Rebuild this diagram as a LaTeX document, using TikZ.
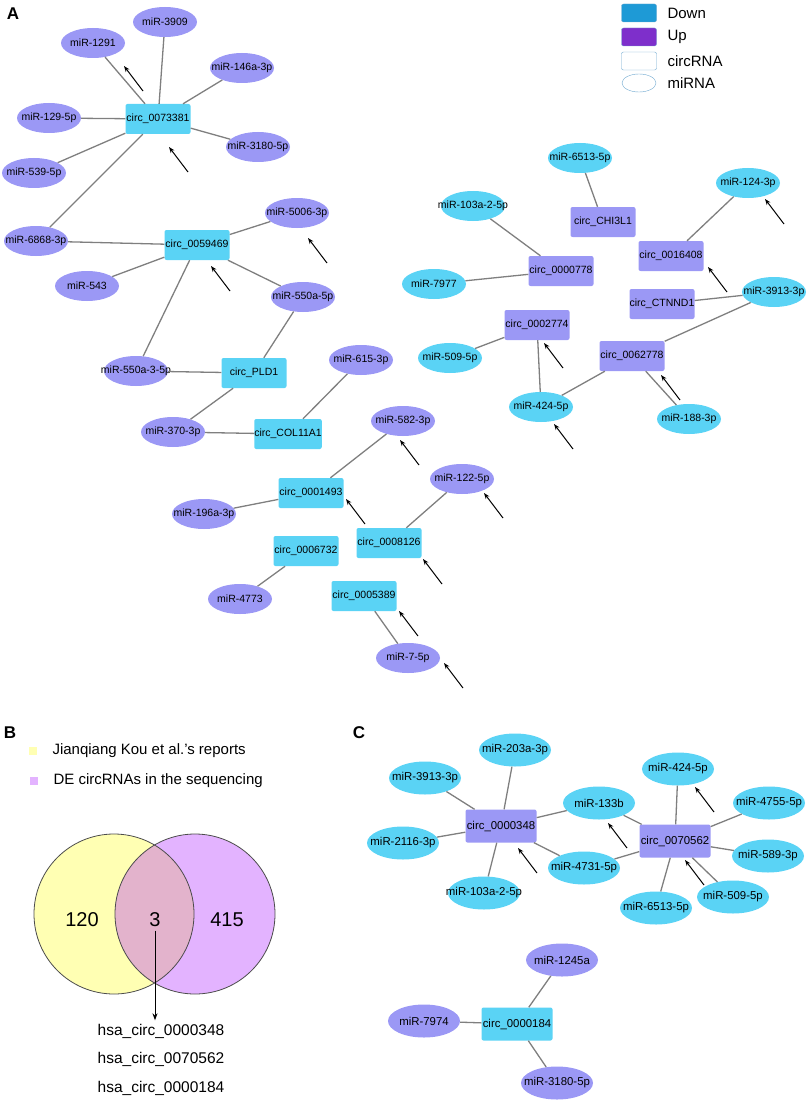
\documentclass[tikz,border=0pt]{standalone}
\usepackage{fontspec}
\setmainfont{Liberation Sans}
\usepackage{tikz}
\usetikzlibrary{positioning,arrows.meta,shapes.geometric}
\usepackage{xcolor}
\definecolor{cyanN}{HTML}{5AD3F5}
\definecolor{lavN}{HTML}{9B98F5}
\definecolor{downC}{HTML}{1E9AD6}
\definecolor{upC}{HTML}{7E2FCB}
\definecolor{legC}{HTML}{6FA8CF}
\definecolor{linkC}{HTML}{7F7F7F}
\definecolor{vennY}{HTML}{FFFFB3}
\definecolor{vennP}{HTML}{E3B3FF}
\definecolor{vennO}{HTML}{E3B3CC}

\begin{document}
\begin{tikzpicture}[x=1pt,y=-1pt,font=\fontsize{10.5}{12}\selectfont]
  \tikzstyle{circ}=[rectangle, rounded corners=2pt, inner sep=0pt, minimum width=65pt, minimum height=30pt]
  \tikzstyle{mir}=[ellipse, inner sep=0pt, minimum width=64pt, minimum height=30pt]
  \tikzstyle{link}=[draw=linkC, line width=1.3pt]
  \tikzstyle{pointer}=[-{Stealth[length=6pt,width=4.5pt]}, line width=1pt]
  \tikzstyle{panel}=[font=\fontsize{17}{20}\selectfont\bfseries]
  \useasboundingbox (0,0) rectangle (809,1102);
  % \draw [step=50,blue] (0,0) grid (809,1102);

  %%% A
  \node [panel] (la) at (13,14) {A};
  \node [rectangle, rounded corners=2pt, fill=downC, draw=legC, minimum width=35pt, minimum height=18pt] (kdown) at (639,13) {};
  \node [rectangle, rounded corners=2pt, fill=upC, draw=legC, minimum width=35pt, minimum height=18pt] (kup) at (639,37) {};
  \node [rectangle, rounded corners=2pt, draw=legC, minimum width=35pt, minimum height=18pt] (kcirc) at (639,61) {};
  \node [ellipse, draw=legC, minimum width=34pt, minimum height=18pt] (kmir) at (639,83) {};
  \node [anchor=west, font=\fontsize{15}{17}\selectfont] (tdown) at (664,13) {Down};
  \node [anchor=west, font=\fontsize{15}{17}\selectfont] (tup) at (664,37) {Up};
  \node [anchor=west, font=\fontsize{15}{17}\selectfont] (tcirc) at (664,61) {circRNA};
  \node [anchor=west, font=\fontsize{15}{17}\selectfont] (tmir) at (664,83) {miRNA};

  \node [circ, fill=cyanN] (c73381) at (158,119) {circ\_0073381};
  \node [circ, fill=cyanN] (c59469) at (197,245) {circ\_0059469};
  \node [circ, fill=cyanN] (cPLD1) at (254,373) {circ\_PLD1};
  \node [circ, fill=cyanN] (cCOL11A1) at (288,434) {circ\_COL11A1};
  \node [circ, fill=cyanN] (c1493) at (311,493) {circ\_0001493};
  \node [circ, fill=cyanN] (c8126) at (389,543) {circ\_0008126};
  \node [circ, fill=cyanN] (c6732) at (306,551) {circ\_0006732};
  \node [circ, fill=cyanN] (c5389) at (364,596) {circ\_0005389};

  \node [mir, fill=lavN, label=center:miR-3909] (m3909) at (165,22) {};
  \node [mir, fill=lavN, label=center:miR-1291] (m1291) at (93,43) {};
  \node [mir, fill=lavN, label=center:miR-146a-3p] (m146a) at (242,68) {};
  \node [mir, fill=lavN, label=center:miR-129-5p] (m129) at (49,118) {};
  \node [mir, fill=lavN, label=center:miR-3180-5p] (m3180) at (258,147) {};
  \node [mir, fill=lavN, label=center:miR-539-5p] (m539) at (34,173) {};
  \node [mir, fill=lavN, label=center:miR-6868-3p] (m6868) at (36,241) {};
  \node [mir, fill=lavN, label=center:miR-543] (m543) at (87,286) {};
  \node [mir, fill=lavN, label=center:miR-5006-3p] (m5006) at (297,213) {};
  \node [mir, fill=lavN, label=center:miR-550a-5p] (m550a) at (303,297) {};
  \node [mir, fill=lavN, label=center:miR-550a-3-5p] (m5503) at (136,371) {};
  \node [mir, fill=lavN, label=center:miR-615-3p] (m615) at (361,360) {};
  \node [mir, fill=lavN, label=center:miR-370-3p] (m370) at (173,432) {};
  \node [mir, fill=lavN, label=center:miR-582-3p] (m582) at (403,421) {};
  \node [mir, fill=lavN, label=center:miR-122-5p] (m122) at (462,479) {};
  \node [mir, fill=lavN, label=center:miR-196a-3p] (m196) at (204,514) {};
  \node [mir, fill=lavN, label=center:miR-4773] (m4773) at (240,599) {};
  \node [mir, fill=lavN, label=center:miR-7-5p] (m75) at (408,658) {};

  \node [circ, fill=lavN] (cCHI3L1) at (603,222) {circ\_CHI3L1};
  \node [circ, fill=lavN] (c778) at (561,271) {circ\_0000778};
  \node [circ, fill=lavN] (c16408) at (671,256) {circ\_0016408};
  \node [circ, fill=lavN] (cCTNND1) at (662,304) {circ\_CTNND1};
  \node [circ, fill=lavN] (c2774) at (537,325) {circ\_0002774};
  \node [circ, fill=lavN] (c62778) at (632,356) {circ\_0062778};

  \node [mir, fill=cyanN, label=center:miR-6513-5p] (m6513) at (580,158) {};
  \node [mir, fill=cyanN, label=center:miR-124-3p] (m124) at (748,183) {};
  \node [mir, fill=cyanN, label=center:miR-103a-2-5p] (m103a) at (473,206) {};
  \node [mir, fill=cyanN, label=center:miR-7977] (m7977) at (434,284) {};
  \node [mir, fill=cyanN, label=center:miR-3913-3p] (m3913) at (774,292) {};
  \node [mir, fill=cyanN, label=center:miR-509-5p] (m509) at (450,358) {};
  \node [mir, fill=cyanN, label=center:miR-424-5p] (m424) at (541,407) {};
  \node [mir, fill=cyanN, label=center:miR-188-3p] (m188) at (689,419) {};

  \draw [link] (c73381) -- (m3909);
  \draw [link] (c73381) -- (m1291);
  \draw [link] (c73381) -- (m146a);
  \draw [link] (c73381) -- (m129);
  \draw [link] (c73381) -- (m3180);
  \draw [link] (c73381) -- (m539);
  \draw [link] (c73381) -- (m6868);
  \draw [link] (c59469) -- (m6868);
  \draw [link] (c59469) -- (m543);
  \draw [link] (c59469) -- (m5006);
  \draw [link] (c59469) -- (m550a);
  \draw [link] (c59469) -- (m5503);
  \draw [link] (cPLD1) -- (m550a);
  \draw [link] (cPLD1) -- (m5503);
  \draw [link] (cPLD1) -- (m370);
  \draw [link] (cCOL11A1) -- (m370);
  \draw [link] (cCOL11A1) -- (m615);
  \draw [link] (c1493) -- (m582);
  \draw [link] (c1493) -- (m196);
  \draw [link] (c8126) -- (m122);
  \draw [link] (c6732) -- (m4773);
  \draw [link] (c5389) -- (m75);
  \draw [link] (cCHI3L1) -- (m6513);
  \draw [link] (c778) -- (m103a);
  \draw [link] (c778) -- (m7977);
  \draw [link] (c16408) -- (m124);
  \draw [link] (cCTNND1) -- (m3913);
  \draw [link] (c62778) -- (m3913);
  \draw [link] (c62778) -- (m424);
  \draw [link] (c62778) -- (m188);
  \draw [link] (c2774) -- (m509);
  \draw [link] (c2774) -- (m424);

  \foreach \p in {(143,91), (188,172), (327,263), (230,291), (419,465), (503,518), (365,524), (442,584), (418,636), (463,688), (784,224), (727,292), (563,368), (573,449), (680,400)}
    \draw [pointer] \p -- ++(-19,-25);

  %%% B
  \node [panel] (lb) at (10,733) {B};
  \fill [vennY] (29,747) rectangle (37,755);
  \fill [vennP] (30,777) rectangle (38,785);
  \node [anchor=west, font=\fontsize{15}{17}\selectfont] (kjian) at (49,751) {Jianqiang Kou et al.'s reports};
  \node [anchor=west, font=\fontsize{15}{17}\selectfont] (kde) at (50,781) {DE circRNAs in the sequencing};
  \fill [vennY] (114,914) circle (80);
  \fill [vennP] (195,914) circle (80);
  \begin{scope}
    \clip (114,914) circle (80);
    \fill [vennO] (195,914) circle (80);
  \end{scope}
  \draw [black!70, line width=0.8pt] (114,914) circle (80);
  \draw [black!70, line width=0.8pt] (195,914) circle (80);
  \node [font=\fontsize{20}{24}\selectfont] (n120) at (82,920) {120};
  \node [font=\fontsize{20}{24}\selectfont] (n3) at (155,920) {3};
  \node [font=\fontsize{20}{24}\selectfont] (n415) at (227,920) {415};
  \node [font=\fontsize{15.5}{18}\selectfont] (h348) at (161,1031) {hsa\_circ\_0000348};
  \node [font=\fontsize{15.5}{18}\selectfont] (h562) at (161,1059) {hsa\_circ\_0070562};
  \node [font=\fontsize{15.5}{18}\selectfont] (h184) at (161,1088) {hsa\_circ\_0000184};
  \draw [-{Stealth[length=7pt,width=5pt]}, line width=1pt] (n3.south) -- (n3.south |- h348.north);

  %%% C
  \node [panel] (lc) at (359,733) {C};
  \begin{scope}[font=\fontsize{11.4}{13}\selectfont]
  \tikzstyle{circ}=[rectangle, rounded corners=2pt, inner sep=0pt, minimum width=71pt, minimum height=33pt]
  \tikzstyle{mir}=[ellipse, inner sep=0pt, minimum width=72pt, minimum height=33pt]
  \node [circ, fill=lavN] (c348) at (501,826) {circ\_0000348};
  \node [circ, fill=lavN] (c70562) at (675,841) {circ\_0070562};
  \node [circ, fill=cyanN] (c184) at (517,1024) {circ\_0000184};

  \node [mir, fill=cyanN, label=center:miR-203a-3p] (m203) at (515,750) {};
  \node [mir, fill=cyanN, label=center:miR-3913-3p] (m3913c) at (425,778) {};
  \node [mir, fill=cyanN, label=center:miR-2116-3p] (m2116) at (403,843) {};
  \node [mir, fill=cyanN, label=center:miR-103a-2-5p] (m103c) at (484,893) {};
  \node [mir, fill=cyanN, label=center:miR-133b] (m133) at (599,803) {};
  \node [mir, fill=cyanN, label=center:miR-4731-5p] (m4731) at (584,868) {};
  \node [mir, fill=cyanN, label=center:miR-424-5p] (m424c) at (678,769) {};
  \node [mir, fill=cyanN, label=center:miR-4755-5p] (m4755) at (769,803) {};
  \node [mir, fill=cyanN, label=center:miR-589-3p] (m589) at (768,856) {};
  \node [mir, fill=cyanN, label=center:miR-509-5p] (m509c) at (733,897) {};
  \node [mir, fill=cyanN, label=center:miR-6513-5p] (m6513c) at (656,908) {};
  \node [mir, fill=lavN, label=center:miR-1245a] (m1245) at (562,960) {};
  \node [mir, fill=lavN, label=center:miR-7974] (m7974) at (424,1021) {};
  \node [mir, fill=lavN, label=center:miR-3180-5p] (m3180c) at (557,1083) {};
  \end{scope}

  \draw [link] (c348) -- (m203);
  \draw [link] (c348) -- (m3913c);
  \draw [link] (c348) -- (m2116);
  \draw [link] (c348) -- (m103c);
  \draw [link] (c348) -- (m133);
  \draw [link] (c348) -- (m4731);
  \draw [link] (c70562) -- (m133);
  \draw [link] (c70562) -- (m4731);
  \draw [link] (c70562) -- (m424c);
  \draw [link] (c70562) -- (m4755);
  \draw [link] (c70562) -- (m589);
  \draw [link] (c70562) -- (m509c);
  \draw [link] (c70562) -- (m6513c);
  \draw [link] (c184) -- (m1245);
  \draw [link] (c184) -- (m7974);
  \draw [link] (c184) -- (m3180c);

  \foreach \p in {(537,873), (627,848), (714,812), (704,885)}
    \draw [pointer] \p -- ++(-19,-25);
\end{tikzpicture}
\end{document}
